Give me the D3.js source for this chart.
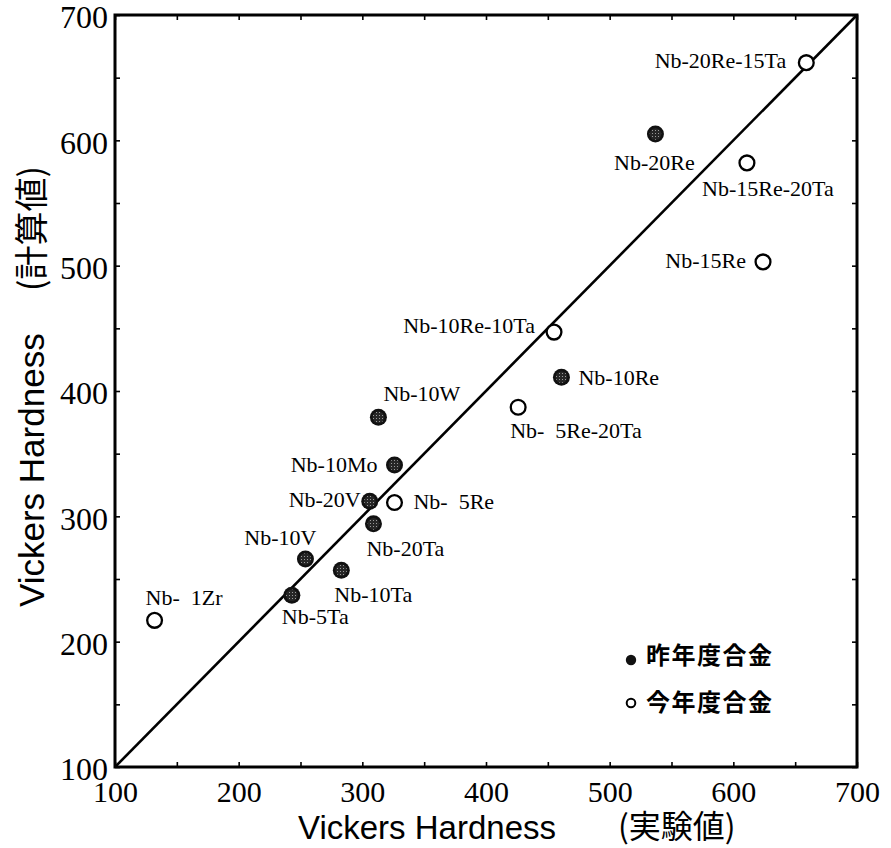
<!DOCTYPE html>
<html>
<head>
<meta charset="utf-8">
<script src="https://cdn.jsdelivr.net/npm/d3@7"></script>
<style>
  html, body { margin: 0; padding: 0; background: #fff; }
  svg { display: block; }
</style>
</head>
<body>
<svg id="chart" width="891" height="848"></svg>
<script>
// Vickers hardness of Nb alloys: measured (実験値) vs calculated (計算値)
const alloys = [
  "Nb-20Re-15Ta", "Nb-20Re", "Nb-15Re-20Ta", "Nb-15Re", "Nb-10Re-10Ta",
  "Nb-10Re", "Nb-  5Re-20Ta", "Nb-10W", "Nb-10Mo", "Nb-20V",
  "Nb-  5Re", "Nb-20Ta", "Nb-10V", "Nb-10Ta", "Nb-5Ta", "Nb-  1Zr"
];
const measured   = [659, 537, 611, 624, 455, 461, 426, 313, 326, 306, 326, 309, 254, 283, 243, 132];
const calculated = [662, 605, 582, 503, 447, 411, 387, 379, 341, 312, 311, 294, 266, 257, 237, 217];
// "prev" = 昨年度合金 (filled), "curr" = 今年度合金 (open)
const cohort = ["curr", "prev", "curr", "curr", "curr", "prev", "curr", "prev",
                "prev", "prev", "curr", "prev", "prev", "prev", "prev", "curr"];

const axisDomain = [100, 700];
const majorTicks = [100, 200, 300, 400, 500, 600, 700];
const minorTicks = [100, 150, 200, 250, 300, 350, 400, 450, 500, 550, 600, 650, 700];
const legendLabels = { prev: "昨年度合金", curr: "今年度合金" };
const xTitle = ["Vickers Hardness", "(実験値)"];
const yTitle = ["Vickers Hardness", "(計算値)"];

// label placement around each marker: text anchor, offset x, baseline offset y
const labelPlacement = {
  "Nb-20Re-15Ta":  ["end",    -20,   5],
  "Nb-20Re":       ["middle",  -1,  36],
  "Nb-15Re-20Ta":  ["middle",  21,  33],
  "Nb-15Re":       ["end",    -17,   6],
  "Nb-10Re-10Ta":  ["end",    -19,   1],
  "Nb-10Re":       ["start",   17,   8],
  "Nb-  5Re-20Ta": ["start",   -8,  31],
  "Nb-10W":        ["start",    5, -16],
  "Nb-10Mo":       ["end",    -17,   7],
  "Nb-20V":        ["end",     -9,   6],
  "Nb-  5Re":      ["start",   19,   6],
  "Nb-20Ta":       ["start",   -7,  32],
  "Nb-10V":        ["end",     11, -14],
  "Nb-10Ta":       ["start",   -7,  32],
  "Nb-5Ta":        ["start",  -10,  29],
  "Nb-  1Zr":      ["start",   -9, -15]
};

const plot = { left: 115, right: 857, top: 15, bottom: 767 };
const serif = "'Liberation Serif', 'Times New Roman', serif";
const sans = "'Liberation Sans', Arial, sans-serif";
const cjk = "'Noto Sans CJK JP', 'Noto Sans CJK SC', sans-serif";

const svg = d3.select("#chart");
const x = d3.scaleLinear().domain(axisDomain).range([plot.left, plot.right]);
const y = d3.scaleLinear().domain(axisDomain).range([plot.bottom, plot.top]);

// stippled fill for the solid markers
const defs = svg.append("defs");
const pat = defs.append("pattern")
  .attr("id", "stipple").attr("patternUnits", "userSpaceOnUse")
  .attr("width", 3).attr("height", 3);
pat.append("rect").attr("width", 3).attr("height", 3).attr("fill", "#262626");
pat.append("rect").attr("x", 1).attr("y", 1).attr("width", 1).attr("height", 1).attr("fill", "#9a9a9a");

// minor ticks on all four sides (inward)
const tickLen = 5;
const g = svg.append("g");
g.append("g").attr("transform", `translate(0,${plot.bottom})`)
  .call(d3.axisBottom(x).tickValues(minorTicks).tickSizeInner(-tickLen).tickSizeOuter(0).tickFormat(""));
g.append("g").attr("transform", `translate(0,${plot.top})`)
  .call(d3.axisTop(x).tickValues(minorTicks).tickSizeInner(-tickLen).tickSizeOuter(0).tickFormat(""));
g.append("g").attr("transform", `translate(${plot.left},0)`)
  .call(d3.axisLeft(y).tickValues(minorTicks).tickSizeInner(-tickLen).tickSizeOuter(0).tickFormat(""));
g.append("g").attr("transform", `translate(${plot.right},0)`)
  .call(d3.axisRight(y).tickValues(minorTicks).tickSizeInner(-tickLen).tickSizeOuter(0).tickFormat(""));
g.selectAll(".domain").remove();
g.selectAll(".tick line").attr("stroke", "#000").attr("stroke-width", 1.6);

// labelled axes (text only)
const xAxis = svg.append("g").attr("transform", `translate(0,${plot.bottom})`)
  .call(d3.axisBottom(x).tickValues(majorTicks).tickSize(0).tickPadding(14).tickFormat(d3.format("d")));
const yAxis = svg.append("g").attr("transform", `translate(${plot.left},0)`)
  .call(d3.axisLeft(y).tickValues(majorTicks).tickSize(0).tickPadding(7).tickFormat(d3.format("d")));
[xAxis, yAxis].forEach(a => a.select(".domain").remove());
xAxis.selectAll("text").attr("font-family", serif).attr("font-size", 30).attr("fill", "#000");
yAxis.selectAll("text").attr("font-family", serif).attr("font-size", 32).attr("fill", "#000")
  .attr("dy", "0.4em");

// frame
svg.append("rect")
  .attr("x", plot.left).attr("y", plot.top)
  .attr("width", plot.right - plot.left).attr("height", plot.bottom - plot.top)
  .attr("fill", "none").attr("stroke", "#000").attr("stroke-width", 3);

// y = x reference line
svg.append("line")
  .attr("x1", x(axisDomain[0])).attr("y1", y(axisDomain[0]))
  .attr("x2", x(axisDomain[1])).attr("y2", y(axisDomain[1]))
  .attr("stroke", "#000").attr("stroke-width", 2.6);

const points = alloys.map((name, i) => ({
  name, mx: measured[i], cy: calculated[i], cohort: cohort[i]
}));

// markers
const marks = svg.append("g");
points.forEach(p => {
  const cx = x(p.mx), cy = y(p.cy);
  if (p.cohort === "prev") {
    marks.append("circle").attr("cx", cx).attr("cy", cy).attr("r", 8.5).attr("fill", "#111");
    marks.append("circle").attr("cx", cx).attr("cy", cy).attr("r", 5.8).attr("fill", "url(#stipple)");
  } else {
    marks.append("circle").attr("cx", cx).attr("cy", cy).attr("r", 7.4)
      .attr("fill", "#fff").attr("stroke", "#000").attr("stroke-width", 2.3);
  }
});

// alloy labels
svg.append("g").selectAll("text").data(points).join("text")
  .attr("x", p => x(p.mx) + labelPlacement[p.name][1])
  .attr("y", p => y(p.cy) + labelPlacement[p.name][2])
  .attr("text-anchor", p => labelPlacement[p.name][0])
  .attr("font-family", serif).attr("font-size", 22).attr("fill", "#000")
  .text(p => p.name.replace(/ /g, "\u00a0"));

// legend
const legend = svg.append("g");
const legendRows = [
  { key: "prev", cy: 660, base: 664 },
  { key: "curr", cy: 703, base: 711 }
];
legendRows.forEach(r => {
  if (r.key === "prev") {
    legend.append("circle").attr("cx", 631).attr("cy", r.cy).attr("r", 5.2).attr("fill", "#111");
  } else {
    legend.append("circle").attr("cx", 631).attr("cy", r.cy).attr("r", 4.3)
      .attr("fill", "#fff").attr("stroke", "#000").attr("stroke-width", 2);
  }
  legend.append("text").attr("x", 646).attr("y", r.base)
    .attr("font-family", cjk).attr("font-size", 24).attr("font-weight", "bold")
    .attr("letter-spacing", 1.5).attr("fill", "#000")
    .text(legendLabels[r.key]);
});

// axis titles
svg.append("text").attr("x", 298).attr("y", 839)
  .attr("font-family", sans).attr("font-size", 33).attr("fill", "#000").text(xTitle[0]);
svg.append("text").attr("x", 618).attr("y", 838)
  .attr("font-family", cjk).attr("font-size", 32).attr("fill", "#000").text(xTitle[1]);
svg.append("text").attr("transform", "translate(44,607) rotate(-90)")
  .attr("font-family", sans).attr("font-size", 35).attr("fill", "#000").text(yTitle[0]);
svg.append("text").attr("transform", "translate(44,291) rotate(-90)")
  .attr("font-family", cjk).attr("font-size", 34).attr("fill", "#000").text(yTitle[1]);
</script>
</body>
</html>
